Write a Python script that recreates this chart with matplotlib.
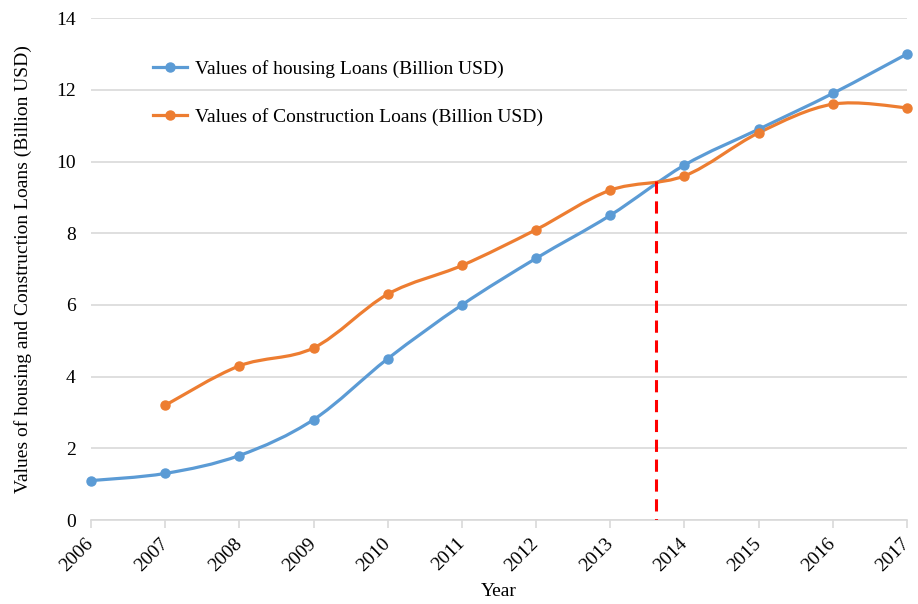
import numpy as np
import matplotlib
matplotlib.use("Agg")
import matplotlib.pyplot as plt
from matplotlib.path import Path
from matplotlib.patches import PathPatch
from matplotlib.lines import Line2D

plt.rcParams['font.family'] = ['Liberation Serif', 'DejaVu Serif']

years_housing = [2006, 2007, 2008, 2009, 2010, 2011, 2012, 2013, 2014, 2015, 2016, 2017]
housing = [1.1, 1.3, 1.8, 2.8, 4.5, 6.0, 7.3, 8.5, 9.9, 10.9, 11.9, 13.0]
years_construction = [2007, 2008, 2009, 2010, 2011, 2012, 2013, 2014, 2015, 2016, 2017]
construction = [3.2, 4.3, 4.8, 6.3, 7.1, 8.1, 9.2, 9.6, 10.8, 11.6, 11.5]
cross_year = 2013.62
cross_value = 9.45
xticks = list(range(2006, 2018))
yticks = [0, 2, 4, 6, 8, 10, 12, 14]

blue = '#5B9BD5'
orange = '#ED7D31'
FS = 14

def smooth_path(x, y):
    pts = np.column_stack([x, y]).astype(float)
    n = len(pts)
    verts = [pts[0]]
    codes = [Path.MOVETO]
    for i in range(n - 1):
        p0 = pts[i - 1] if i > 0 else pts[i]
        p1 = pts[i]
        p2 = pts[i + 1]
        p3 = pts[i + 2] if i + 2 < n else pts[i + 1]
        c1 = p1 + (p2 - p0) / 6.0
        c2 = p2 - (p3 - p1) / 6.0
        verts += [c1, c2, p2]
        codes += [Path.CURVE4] * 3
    return Path(verts, codes)

fig = plt.figure(figsize=(9.18, 6.04), dpi=100)
ax = fig.add_axes([0.0991, 0.139, 0.8889, 0.831])

for xs, ys, c in [(years_housing, housing, blue), (years_construction, construction, orange)]:
    ax.add_patch(PathPatch(smooth_path(xs, ys), facecolor='none', edgecolor=c, lw=2.3,
                           capstyle='round', joinstyle='round', zorder=3, clip_on=False))
    ax.plot(xs, ys, 'o', color=c, ms=6.5, zorder=4, clip_on=False)

ax.plot([cross_year, cross_year], [cross_value, 0], color='#FF0000', lw=2.2,
        dashes=(4, 2.5), zorder=5)

ax.set_xlim(2006, 2017)
ax.set_ylim(0, 14)
ax.set_xticks(xticks)
ax.set_xticklabels([str(t) for t in xticks], rotation=45, fontsize=FS,
                   ha='right', va='center', rotation_mode='anchor')
ax.set_yticks(yticks)
ax.set_yticklabels([str(t) for t in yticks], fontsize=FS)
ax.yaxis.grid(True, color='#D9D9D9', lw=1.2)
ax.set_axisbelow(True)
for s in ['top', 'right', 'left']:
    ax.spines[s].set_visible(False)
ax.spines['bottom'].set_color('#D9D9D9')
ax.spines['bottom'].set_linewidth(1.2)
ax.tick_params(axis='y', length=0, pad=11)
ax.tick_params(axis='x', length=6, color='#D9D9D9', width=1.2, pad=9)
ax.set_xlabel('Year', fontsize=FS, labelpad=6)
ax.set_ylabel('Values of housing and Construction Loans (Billion USD)', fontsize=FS, labelpad=17)

handles = [Line2D([], [], color=blue, lw=2.3, marker='o', ms=6.5),
           Line2D([], [], color=orange, lw=2.3, marker='o', ms=6.5)]
ax.legend(handles, ['Values of housing Loans (Billion USD)',
                    'Values of Construction Loans (Billion USD)'],
          loc='upper left', bbox_to_anchor=(0.055, 0.952), frameon=False,
          fontsize=FS, handlelength=1.75, handletextpad=0.4, labelspacing=1.55)

fig.savefig('out.png', dpi=100)
